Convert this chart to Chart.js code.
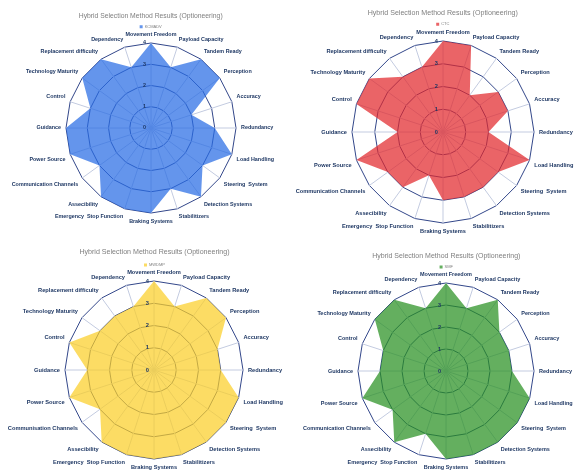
<!DOCTYPE html>
<html><head><meta charset="utf-8">
<script src="https://cdn.jsdelivr.net/npm/chart.js@4"></script>
<style>
html,body{margin:0;padding:0;background:#fff;width:576px;height:471px;overflow:hidden;}
canvas{position:absolute;left:0;top:0;}
</style></head><body>
<canvas id="c1" width="576" height="471"></canvas>
<canvas id="c2" width="576" height="471"></canvas>
<canvas id="c3" width="576" height="471"></canvas>
<canvas id="c4" width="576" height="471"></canvas>
<script>
// ---- data ----
const chartTitle = 'Hybrid Selection Method Results (Optioneering)';
const categories = ['Movement Freedom','Payload Capacity','Tandem Ready','Perception','Accuracy','Redundancy','Load Handling','Steering  System','Detection Systems','Stabilitizers','Braking Systems','Emergency  Stop Function','Assecibility','Communication Channels','Power Source','Guidance','Control','Technology Maturity','Replacement difficulty','Dependency'];
const categoriesMWDMP = ['Movement Freedom','Payload Capacity','Tandem Ready','Perception','Accuracy','Redundancy','Load Handling','Steering  System','Detection Systems','Stabilitizers','Braking Systems','Emergency  Stop Function','Assecibility','Communisation Channels','Power Source','Guidance','Control','Technology Maturity','Replacement difficulty','Dependency'];
const tickLabels = ['0','1','2','3','4'];
const seriesNames = ['KCMADV','CTC','MWDMP','SMF'];
const kcmadvValues = [4,3,4,4,2,3,4,3,4,3,4,4,4,3,4,4,3,4,4,3];
const ctcValues    = [4,4,2,3,3,2,4,3,3,3,3,2,3,3,4,2,4,4,3,3];
const mwdmpValues  = [4,3,4,4,3,3,4,4,4,4,4,4,4,3,4,3,4,3,3,3];
const smfValues    = [4,3,4,3,3,3,4,4,4,4,4,3,4,3,4,3,3,4,4,3];

// ---- styling / layout ----
const FONT = '"Liberation Sans", Arial, sans-serif';
Chart.defaults.font.family = FONT;
const W = 576;
const panels = [
  {id:'c1', labels:categories,      values:kcmadvValues, name:seriesNames[0], fill:'rgba(40,108,229,0.72)',  cx:151, cy:128, r:85, tx:150.7, ty:15.7, gap:11,   fs:5.4,  tfs:6.8},
  {id:'c2', labels:categories,      values:ctcValues,    name:seriesNames[1], fill:'rgba(226,40,45,0.72)',   cx:443, cy:132, r:91, tx:442.8, ty:13.3, gap:11,   fs:5.65, tfs:7.1},
  {id:'c3', labels:categoriesMWDMP, values:mwdmpValues,  name:seriesNames[2], fill:'rgba(251,206,40,0.72)',  cx:154, cy:370, r:89, tx:154.5, ty:251.7,gap:13.3, fs:5.7,  tfs:7.1},
  {id:'c4', labels:categories,      values:smfValues,    name:seriesNames[3], fill:'rgba(40,144,33,0.72)',   cx:446, cy:371, r:88, tx:446.3, ty:256,  gap:11,   fs:5.5,  tfs:7.0}
];

function placeScale(cx, cy, R) {
  return function(scale) {
    const ox = scale.xCenter, oy = scale.yCenter, oR = scale.drawingArea;
    scale.xCenter = cx; scale.yCenter = cy; scale.drawingArea = R;
    (scale._pointLabelItems || []).forEach((it, i) => {
      const a = scale.getIndexAngle(i) - Math.PI / 2;
      const dx = (cx - ox) + (R - oR) * Math.cos(a);
      const dy = (cy - oy) + (R - oR) * Math.sin(a);
      it.x += dx; it.y += dy; it.left += dx; it.right += dx; it.top += dy; it.bottom += dy;
    });
  };
}

const tickPlugin = {
  id: 'tickText',
  afterDatasetsDraw(chart, args, opts) {
    const s = chart.scales.r, ctx = chart.ctx;
    ctx.save();
    ctx.font = 'bold ' + opts.size + 'px ' + FONT;
    ctx.fillStyle = '#1f3864';
    ctx.textAlign = 'right';
    ctx.textBaseline = 'middle';
    tickLabels.forEach(t => {
      const d = s.getDistanceFromCenterForValue(Number(t));
      ctx.fillText(t, s.xCenter - 5, s.yCenter - d);
    });
    ctx.restore();
  }
};

panels.forEach(p => {
  const titleLH = p.tfs * 1.2;
  const lpad = 2, legendFs = 4;
  const pb = p.gap - titleLH / 2 - lpad - legendFs / 2;
  const padL = p.tx > W / 2 ? 2 * p.tx - W : 0;
  const padR = p.tx < W / 2 ? W - 2 * p.tx : 0;
  new Chart(document.getElementById(p.id), {
    type: 'radar',
    data: {
      labels: p.labels,
      datasets: [{
        label: p.name,
        data: p.values,
        backgroundColor: p.fill,
        borderColor: p.fill,
        borderWidth: 0,
        pointRadius: 0,
        fill: true,
        clip: false
      }]
    },
    options: {
      responsive: false,
      animation: false,
      events: [],
      layout: {padding: {top: p.ty - titleLH / 2, left: padL, right: padR, bottom: 0}},
      plugins: {
        title: {display: true, text: chartTitle, color: '#7f7f7f', font: {size: p.tfs, weight: 'normal'}, padding: {top: 0, bottom: pb}},
        legend: {display: true, labels: {boxWidth: 3, boxHeight: 3, font: {size: legendFs}, color: '#7f7f7f', padding: lpad}},
        tooltip: {enabled: false},
        tickText: {size: p.fs}
      },
      scales: {
        r: {
          min: 0, max: 4,
          ticks: {display: false, stepSize: 1},
          grid: {color: '#33478a', lineWidth: 1},
          angleLines: {color: '#c3cbe0', lineWidth: 1},
          pointLabels: {font: {size: p.fs, weight: 'bold'}, color: '#1f3864', padding: 5},
          afterFit: placeScale(p.cx, p.cy, p.r)
        }
      }
    },
    plugins: [tickPlugin]
  });
});
</script>
</body></html>
